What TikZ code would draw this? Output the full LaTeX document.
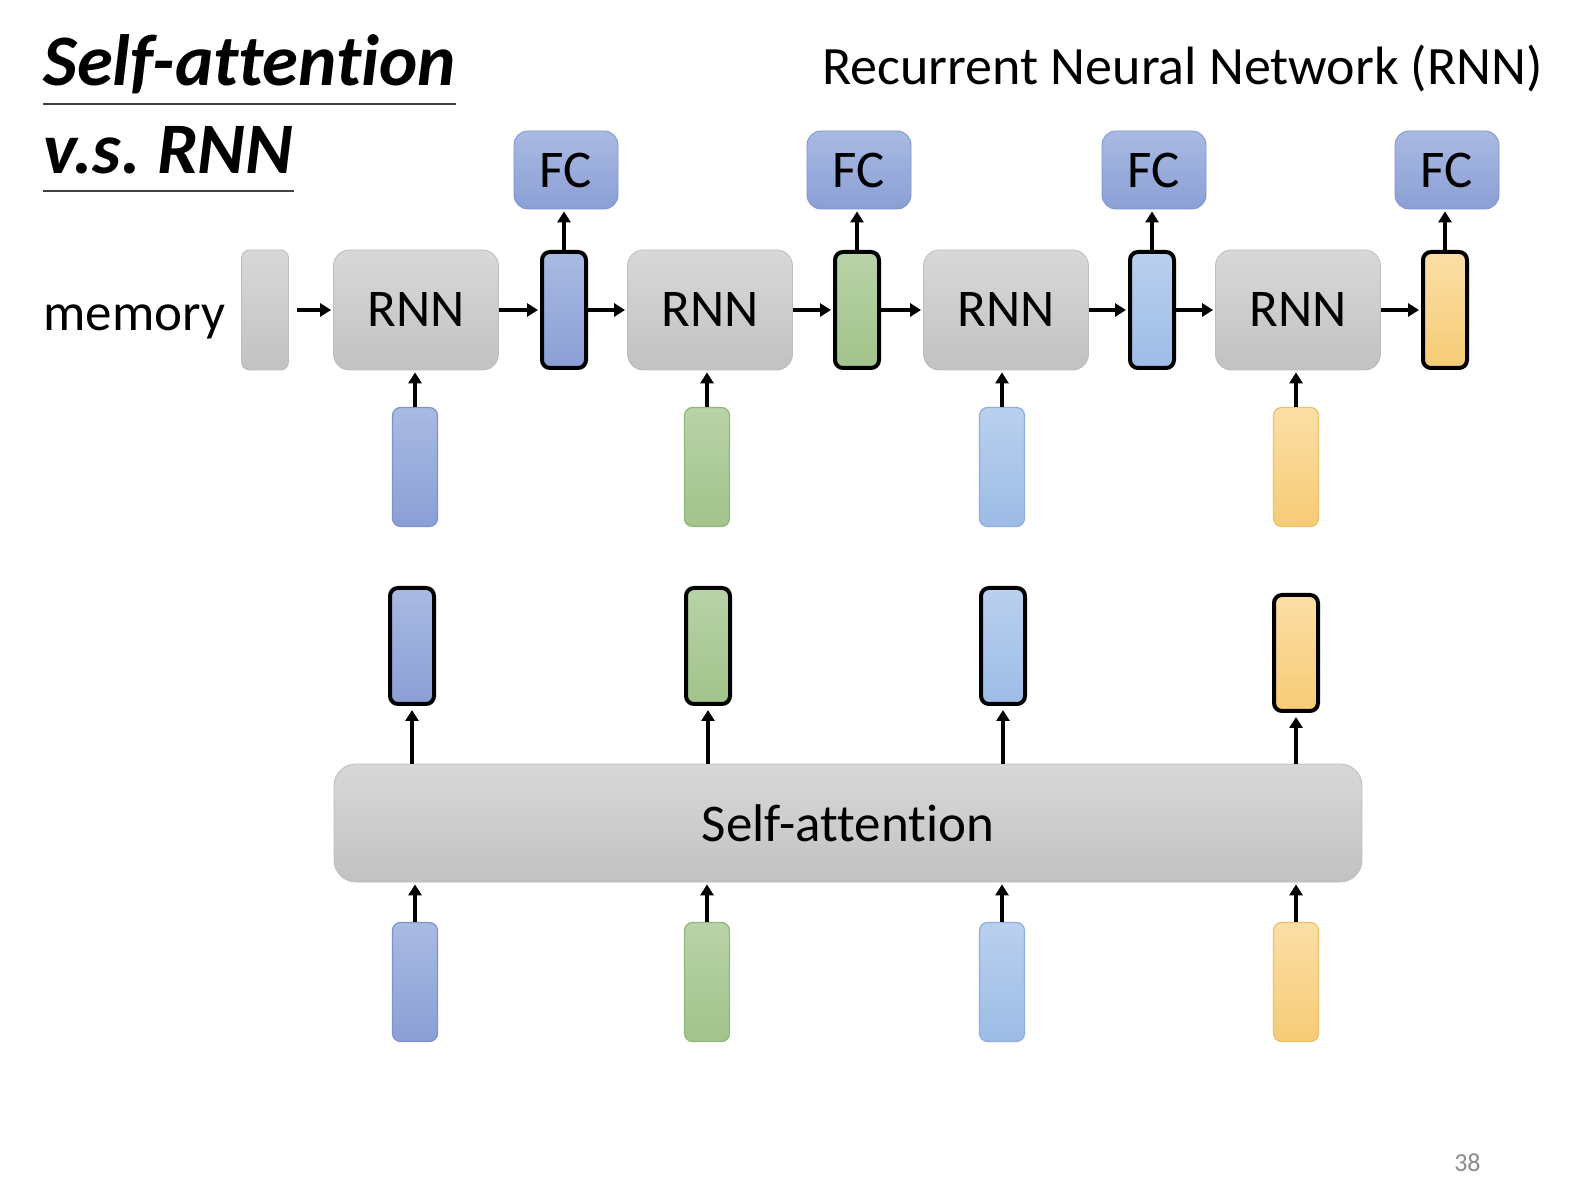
\documentclass[tikz,border=0pt]{standalone}
\usepackage{fontspec}
\setmainfont[Ligatures=NoCommon]{Carlito}
\usetikzlibrary{arrows.meta}
\definecolor{grytop}{HTML}{D8D8D8}
\definecolor{grybot}{HTML}{C2C2C2}
\definecolor{grydk}{HTML}{BCBCBC}
\definecolor{blutop}{HTML}{A9BAE2}
\definecolor{blubot}{HTML}{8A9FD5}
\definecolor{bludk}{HTML}{7C93CC}
\definecolor{grntop}{HTML}{B8D3A8}
\definecolor{grnbot}{HTML}{A2C38A}
\definecolor{grndk}{HTML}{94B57E}
\definecolor{lbltop}{HTML}{BAD0EE}
\definecolor{lblbot}{HTML}{9CBCE6}
\definecolor{lbldk}{HTML}{8FAEDC}
\definecolor{yeltop}{HTML}{FBDFA6}
\definecolor{yelbot}{HTML}{F6CB75}
\definecolor{yeldk}{HTML}{EDC06A}
\definecolor{ulgray}{HTML}{404040}

\begin{document}
\begin{tikzpicture}[x=0.5pt,y=-0.5pt]
	\tikzstyle{big}=[font=\fontsize{26.5pt}{30pt}\selectfont]
	\tikzstyle{head}=[anchor=base west,inner sep=0pt,font=\fontsize{36.3pt}{40pt}\selectfont\bfseries\itshape]
	\tikzstyle{cell}=[draw=grydk,top color=grytop,bottom color=grybot,rounded corners=8pt,minimum width=82.5pt,minimum height=60pt,inner sep=0pt,big]
	\tikzstyle{fc}=[draw=bludk,top color=blutop,bottom color=blubot,rounded corners=7pt,minimum width=52pt,minimum height=39pt,inner sep=0pt,big]
	\tikzstyle{vec}=[rounded corners=4pt,minimum width=22.5pt,minimum height=59.5pt,inner sep=0pt,line width=0.6pt]
	\tikzstyle{hid}=[draw=black,line width=2pt,minimum width=22pt,minimum height=58pt]
	\tikzstyle{blu}=[draw=bludk,top color=blutop,bottom color=blubot]
	\tikzstyle{grn}=[draw=grndk,top color=grntop,bottom color=grnbot]
	\tikzstyle{lbl}=[draw=lbldk,top color=lbltop,bottom color=lblbot]
	\tikzstyle{yel}=[draw=yeldk,top color=yeltop,bottom color=yelbot]
	\tikzstyle{flow}=[line width=2pt,shorten >=1pt,-{Triangle[length=5.5pt,width=6.5pt]}]
	\useasboundingbox [fill=white] (0,0) rectangle (1576,1192);
	\node (title) at (43,86) [head] {Self-attention};
	\node (vs) at (43,174) [head] {v.s.\ RNN};
	\draw [ulgray,line width=1pt] ([yshift=-9pt]title.base west) -- ([yshift=-9pt]title.base east);
	\draw [ulgray,line width=1pt] ([yshift=-8.5pt]vs.base west) -- ([yshift=-8.5pt]vs.base east);
	\node (rnnhead) at (822,85) [anchor=base west,inner sep=0pt,font=\fontsize{27pt}{30pt}\selectfont] {Recurrent Neural Network (RNN)};
	\node (mem) at (43,331) [anchor=base west,inner sep=0pt,big] {memory};
	\node (page) at (1481,1171) [anchor=base east,inner sep=0pt,text=black!45,font=\fontsize{13pt}{15pt}\selectfont] {38};
	\node (m0) at (265,310) [cell,minimum width=23.5pt,rounded corners=4pt] {};
	\node (r1) at (416,310) [cell] {RNN};
	\node (r2) at (710,310) [cell] {RNN};
	\node (r3) at (1006,310) [cell] {RNN};
	\node (r4) at (1298,310) [cell] {RNN};
	\node (h1) at (564,310) [vec,blu,hid] {};
	\node (h2) at (857,310) [vec,grn,hid] {};
	\node (h3) at (1152,310) [vec,lbl,hid] {};
	\node (h4) at (1445,310) [vec,yel,hid] {};
	\node (f1) at (566,170) [fc] {FC};
	\node (f2) at (859,170) [fc] {FC};
	\node (f3) at (1154,170) [fc] {FC};
	\node (f4) at (1447,170) [fc] {FC};
	\node (i1) at (415,467) [vec,blu] {};
	\node (i2) at (707,467) [vec,grn] {};
	\node (i3) at (1002,467) [vec,lbl] {};
	\node (i4) at (1296,467) [vec,yel] {};
	\node (o1) at (412,646) [vec,blu,hid] {};
	\node (o2) at (708,646) [vec,grn,hid] {};
	\node (o3) at (1003,646) [vec,lbl,hid] {};
	\node (o4) at (1296,653) [vec,yel,hid] {};
	\node (sa) at (848,823) [cell,minimum width=514pt,minimum height=59pt,rounded corners=11pt] {Self-attention};
	\node (s1) at (415,982) [vec,blu] {};
	\node (s2) at (707,982) [vec,grn] {};
	\node (s3) at (1002,982) [vec,lbl] {};
	\node (s4) at (1296,982) [vec,yel] {};
	\draw [flow,shorten <=4pt] (m0) -- (r1);
	\draw [flow] (r1) -- (h1);
	\draw [flow] (h1) -- (r2);
	\draw [flow] (r2) -- (h2);
	\draw [flow] (h2) -- (r3);
	\draw [flow] (r3) -- (h3);
	\draw [flow] (h3) -- (r4);
	\draw [flow] (r4) -- (h4);
	\draw [flow] (h1.north) -- (h1.north |- f1.south);
	\draw [flow] (h2.north) -- (h2.north |- f2.south);
	\draw [flow] (h3.north) -- (h3.north |- f3.south);
	\draw [flow] (h4.north) -- (h4.north |- f4.south);
	\draw [flow] (i1) -- (i1 |- r1.south);
	\draw [flow] (i2) -- (i2 |- r2.south);
	\draw [flow] (i3) -- (i3 |- r3.south);
	\draw [flow] (i4) -- (i4 |- r4.south);
	\draw [flow,shorten >=2pt] (o1 |- sa.north) -- (o1);
	\draw [flow,shorten >=2pt] (o2 |- sa.north) -- (o2);
	\draw [flow,shorten >=2pt] (o3 |- sa.north) -- (o3);
	\draw [flow,shorten >=2pt] (o4 |- sa.north) -- (o4);
	\draw [flow] (s1) -- (s1 |- sa.south);
	\draw [flow] (s2) -- (s2 |- sa.south);
	\draw [flow] (s3) -- (s3 |- sa.south);
	\draw [flow] (s4) -- (s4 |- sa.south);
\end{tikzpicture}
\end{document}
